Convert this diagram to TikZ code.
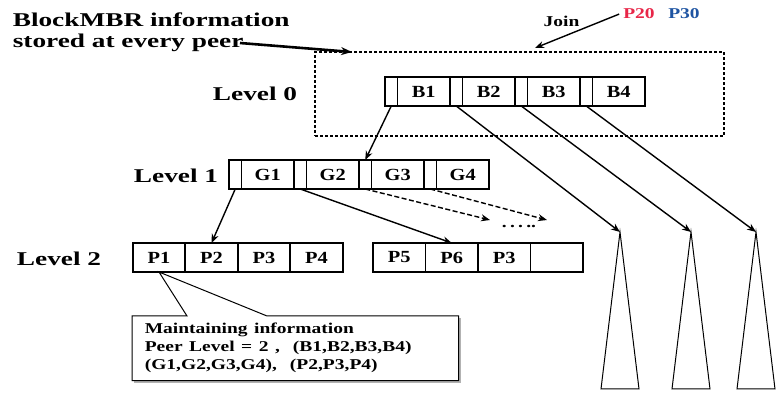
\documentclass[tikz,border=0pt]{standalone}
\usepackage{fontspec}
\setmainfont{Liberation Serif}
\usepackage{graphicx}
\usetikzlibrary{positioning}
\usetikzlibrary{calc}
\usetikzlibrary{arrows.meta}
\definecolor{peerred}{RGB}{232,38,72}
\definecolor{peerblue}{RGB}{30,84,162}
\newcommand{\widetxt}[2][1.3]{\scalebox{#1}[1]{#2}}

\begin{document}
\begin{tikzpicture}[x=1pt, y=-1pt, line width=1.6pt,
    cell/.style={draw, outer sep=0pt, inner sep=0pt, minimum width=52.5pt, minimum height=29pt, font=\fontsize{17}{20}\selectfont\bfseries},
    ptrcell/.style={draw, outer sep=0pt, inner sep=0pt, minimum width=12.5pt, minimum height=29pt},
    lvl/.style={anchor=base, font=\fontsize{19.5}{21}\selectfont\bfseries},
    small/.style={anchor=base, font=\fontsize{15}{18}\selectfont\bfseries},
    link/.style={-{Stealth[length=9pt, width=7pt]}, line width=1.4pt}]
  \useasboundingbox (0,0) rectangle (780,398);

  % level 0 (dashed: stored at every peer)
  \node[draw, dash pattern=on 3pt off 2pt, outer sep=0pt, minimum width=409pt, minimum height=84pt] (blk) at (519.5,94) {};
  \node[ptrcell] (bp0) at (391.25,91.5) {};
  \node[cell, right=0pt of bp0] (B1) {\widetxt[1.2]{B1}};
  \node[ptrcell, right=0pt of B1] (bp1) {};
  \node[cell, right=0pt of bp1] (B2) {\widetxt[1.2]{B2}};
  \node[ptrcell, right=0pt of B2] (bp2) {};
  \node[cell, right=0pt of bp2] (B3) {\widetxt[1.2]{B3}};
  \node[ptrcell, right=0pt of B3] (bp3) {};
  \node[cell, right=0pt of bp3] (B4) {\widetxt[1.2]{B4}};

  % level 1
  \node[ptrcell] (gp0) at (235.25,174.5) {};
  \node[cell, right=0pt of gp0] (G1) {\widetxt[1.2]{G1}};
  \node[ptrcell, right=0pt of G1] (gp1) {};
  \node[cell, right=0pt of gp1] (G2) {\widetxt[1.2]{G2}};
  \node[ptrcell, right=0pt of G2] (gp2) {};
  \node[cell, right=0pt of gp2] (G3) {\widetxt[1.2]{G3}};
  \node[ptrcell, right=0pt of G3] (gp3) {};
  \node[cell, right=0pt of gp3] (G4) {\widetxt[1.2]{G4}};

  % level 2
  \node[cell] (P1) at (159,257.5) {\widetxt[1.2]{P1}};
  \node[cell, right=0pt of P1] (P2) {\widetxt[1.2]{P2}};
  \node[cell, right=0pt of P2] (P3) {\widetxt[1.2]{P3}};
  \node[cell, right=0pt of P3] (P4) {\widetxt[1.2]{P4}};
  \node[cell] (P5) at (399.25,257.5) {\widetxt[1.2]{P5}};
  \node[cell, right=0pt of P5] (P6) {\widetxt[1.2]{P6}};
  \node[cell, right=0pt of P6] (P7) {\widetxt[1.2]{P3}};
  \node[cell, right=0pt of P7] (P8) {};

  \node[lvl] (lv0) at (255,100.5) {\widetxt[1.4]{Level 0}};
  \node[lvl] (lv1) at (176,182.7) {\widetxt[1.4]{Level 1}};
  \node[lvl] (lv2) at (59,265.5) {\widetxt[1.4]{Level 2}};

  % subtrees
  \coordinate (t1) at (620,232);
  \coordinate (t2) at (691,232);
  \coordinate (t3) at (756,232);
  \foreach \t in {t1,t2,t3}
    \draw[line width=1pt] (\t) -- ++(-19,157) -- ++(38,0) -- cycle;

  \draw[link] (bp0.south) -- (gp2.north);
  \draw[link] (bp1.south) -- (t1);
  \draw[link] (bp2.south) -- (t2);
  \draw[link] (bp3.south) -- (t3);
  \draw[link] (gp0.south) -- (P2.north);
  \draw[link] (gp1.south) -- (P6.north);
  \coordinate (d1) at (490,220);
  \coordinate (d2) at (547,220);
  \draw[link, dash pattern=on 5pt off 2.5pt] (gp2.south) -- (d1);
  \draw[link, dash pattern=on 5pt off 2.5pt] (gp3.south) -- (d2);
  \node[small] (dots) at (519,228) {\widetxt{.\,.\,.\,..}};

  % labels on top
  \node[anchor=north west, inner sep=0pt, align=left, font=\fontsize{19.5}{21}\selectfont\bfseries] (info) at (12,11.5)
    {\widetxt[1.4]{BlockMBR information}\\\widetxt[1.4]{stored at every peer}};
  \coordinate (infoend) at (240,43);
  \draw[-{Stealth[length=11pt, width=8pt]}, line width=2.6pt] (infoend) -- ($(blk.north west)+(37,0)$);

  \node[small] (join) at (561.5,26.7) {\widetxt{Join}};
  \node[small, text=peerred] (P20) at (639,19) {\widetxt{P20}};
  \node[small, text=peerblue] (P30) at (684,19) {\widetxt{P30}};
  \coordinate (joinend) at (535,48);
  \draw[link] (P20.west) -- (joinend);

  % callout of P1
  \node[anchor=north west, inner xsep=12pt, inner ysep=0pt, text width=301pt, minimum height=63pt, align=left,
        font=\fontsize{15}{18}\selectfont\bfseries] (note) at (132,316)
    {\widetxt{Maintaining information}\\
     \widetxt{Peer Level = 2 ,\ \ (B1,B2,B3,B4)}\\
     \widetxt{(G1,G2,G3,G4),\ \ (P2,P3,P4)}};
  \draw[gray!60, line width=1.5pt] ($(note.north east)+(1.6,2)$) -- ($(note.south east)+(1.6,1.6)$) -- ($(note.south west)+(2,1.6)$);
  \draw[line width=1pt] ($(note.north west)+(55,0)$) -- (P1.south) -- ($(note.north west)+(135,0)$)
    -- (note.north east) -- (note.south east) -- (note.south west) -- (note.north west) -- cycle;

\end{tikzpicture}
\end{document}
